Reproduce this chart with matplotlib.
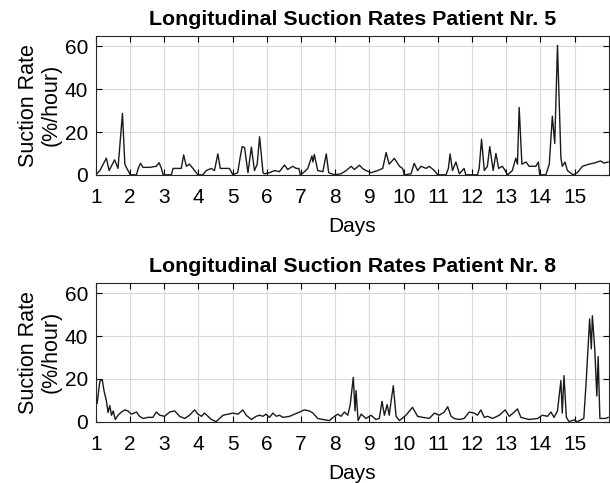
import matplotlib.pyplot as plt

# Patient 5: days and suction rate (%/hour)
days_p5 = [1.00, 1.12, 1.31, 1.39, 1.55, 1.65, 1.78, 1.85, 1.91, 2.01, 2.19, 2.24, 2.31, 2.38,
           2.58, 2.77, 2.85, 2.92, 2.97, 3.21, 3.26, 3.50, 3.57, 3.65, 3.74, 3.84, 3.99, 4.13,
           4.23, 4.38, 4.47, 4.57, 4.64, 4.91, 5.01, 5.15, 5.22, 5.28, 5.35, 5.45, 5.55, 5.64,
           5.72, 5.79, 5.89, 5.93, 6.08, 6.23, 6.37, 6.52, 6.61, 6.76, 6.86, 6.94, 6.98, 7.07,
           7.20, 7.32, 7.35, 7.39, 7.49, 7.64, 7.74, 7.81, 7.98, 8.17, 8.32, 8.47, 8.56, 8.71,
           8.80, 8.90, 9.05, 9.24, 9.39, 9.49, 9.58, 9.73, 9.88, 9.97, 10.02, 10.22, 10.31, 10.41,
           10.51, 10.66, 10.75, 10.90, 11.00, 11.24, 11.31, 11.36, 11.43, 11.53, 11.63, 11.77, 11.82,
           12.16, 12.21, 12.28, 12.36, 12.45, 12.52, 12.62, 12.70, 12.78, 12.89, 12.97, 13.04, 13.18,
           13.28, 13.33, 13.38, 13.46, 13.58, 13.67, 13.87, 13.94, 13.98, 14.16, 14.26, 14.35, 14.42,
           14.50, 14.60, 14.64, 14.72, 14.79, 14.96, 15.08, 15.23, 15.42, 15.57, 15.76, 15.86, 15.98]
rate_p5 = [0.0, 2.0, 7.8, 2.0, 7.0, 3.0, 28.7, 5.0, 3.0, 0.0, 0.0, 3.0, 5.4, 3.5,
           3.5, 4.0, 5.7, 3.0, 0.0, 0.0, 3.0, 3.0, 9.3, 4.0, 5.0, 3.0, 0.0, 0.0,
           2.0, 3.0, 2.0, 9.8, 3.0, 3.0, 0.0, 1.0, 8.0, 13.2, 12.8, 1.0, 13.0, 2.0,
           5.0, 17.8, 1.0, 0.5, 1.0, 2.0, 1.5, 4.6, 2.5, 4.0, 3.0, 3.0, 0.0, 1.0,
           3.0, 8.8, 6.0, 9.5, 2.0, 1.5, 9.8, 1.0, 0.0, 0.5, 2.0, 4.0, 2.5, 4.5,
           3.0, 2.0, 1.0, 2.0, 3.0, 10.4, 5.0, 7.7, 4.0, 3.0, 0.0, 0.5, 5.4, 2.0,
           4.0, 3.0, 4.0, 2.0, 0.0, 0.0, 3.0, 9.8, 2.0, 6.0, 0.5, 3.0, 0.0,
           0.0, 3.0, 16.6, 2.0, 4.0, 13.2, 2.0, 10.0, 3.0, 4.0, 2.0, 0.0, 2.0,
           7.8, 5.0, 31.5, 5.0, 6.0, 4.0, 4.0, 6.0, 0.0, 0.0, 5.0, 27.4, 14.7,
           60.5, 8.0, 4.0, 6.0, 2.0, 0.0, 1.0, 4.0, 5.0, 5.5, 6.5, 5.5, 6.0]

# Patient 8
days_p8 = [1.00, 1.04, 1.12, 1.19, 1.24, 1.31, 1.36, 1.41, 1.46, 1.51, 1.57, 1.65, 1.75, 1.85,
           1.94, 2.04, 2.19, 2.28, 2.38, 2.53, 2.67, 2.77, 2.87, 3.01, 3.16, 3.31, 3.45, 3.60,
           3.74, 3.89, 3.99, 4.09, 4.18, 4.28, 4.38, 4.52, 4.62, 4.72, 4.86, 5.01, 5.16, 5.30,
           5.40, 5.55, 5.69, 5.79, 5.89, 5.98, 6.08, 6.18, 6.28, 6.37, 6.47, 6.67, 6.81, 6.96,
           7.10, 7.25, 7.35, 7.49, 7.64, 7.83, 7.98, 8.08, 8.17, 8.27, 8.37, 8.44, 8.53, 8.58,
           8.61, 8.67, 8.76, 8.90, 9.05, 9.19, 9.29, 9.37, 9.44, 9.52, 9.58, 9.63, 9.70, 9.78,
           9.88, 10.07, 10.26, 10.41, 10.56, 10.75, 10.90, 11.04, 11.19, 11.29, 11.39, 11.48, 11.63,
           11.77, 11.92, 12.07, 12.16, 12.26, 12.36, 12.46, 12.60, 12.80, 12.97, 13.09, 13.24, 13.33,
           13.43, 13.67, 13.92, 14.06, 14.21, 14.31, 14.40, 14.50, 14.60, 14.64, 14.69, 14.76, 14.84,
           14.98, 15.08, 15.27, 15.34, 15.44, 15.49, 15.52, 15.59, 15.65, 15.69, 15.74, 15.91, 15.98]
rate_p8 = [8.5, 8.5, 19.0, 19.6, 14.5, 9.8, 4.3, 7.5, 3.0, 5.0, 1.0, 3.0, 4.5, 5.5,
           5.0, 3.5, 4.5, 2.5, 1.5, 2.0, 2.0, 4.5, 3.0, 2.5, 4.5, 5.0, 2.5, 1.5,
           3.0, 5.5, 3.5, 2.5, 4.0, 2.5, 1.0, 0.0, 1.5, 3.0, 3.5, 4.0, 3.5, 5.5,
           3.0, 1.0, 2.5, 3.0, 2.5, 3.5, 2.0, 4.0, 2.5, 3.0, 2.0, 2.5, 3.5, 4.5,
           5.5, 5.0, 4.0, 1.5, 1.0, 0.5, 2.5, 3.5, 2.5, 4.5, 3.0, 8.0, 20.7, 5.0,
           14.5, 0.5, 3.5, 1.5, 3.0, 1.0, 1.5, 9.5, 3.0, 8.0, 3.0, 9.0, 16.8, 2.5,
           0.5, 3.0, 6.7, 2.5, 2.0, 1.5, 4.0, 3.0, 4.5, 7.0, 2.5, 1.5, 1.0,
           1.5, 4.5, 4.0, 3.0, 5.5, 2.0, 2.5, 1.5, 3.0, 5.5, 2.5, 4.5, 6.0,
           2.0, 1.0, 1.5, 3.0, 2.5, 4.5, 2.0, 5.0, 19.2, 4.0, 21.5, 2.0, 0.0,
           0.8, 0.0, 1.5, 19.0, 48.0, 34.0, 49.5, 34.0, 12.0, 30.4, 1.5, 1.5, 2.0]

day_ticks = list(range(1, 16))
rate_ticks = [0, 20, 40, 60]

plt.rcParams['font.family'] = ['Liberation Sans', 'DejaVu Sans']

fig = plt.figure(figsize=(6.10, 4.83), dpi=100)
ax_top = fig.add_axes([0.157, 0.638, 0.841, 0.288])
ax_bot = fig.add_axes([0.157, 0.127, 0.841, 0.288])

for ax, d, r, nr in [(ax_top, days_p5, rate_p5, 5), (ax_bot, days_p8, rate_p8, 8)]:
    ax.plot(d, r, color='#1a1a1a', linewidth=1.0)
    ax.set_xlim(1, 16)
    ax.set_ylim(0, 65)
    ax.set_xticks(day_ticks)
    ax.set_yticks(rate_ticks)
    ax.grid(True, color='#d9d9d9', linewidth=0.8)
    ax.set_axisbelow(True)
    ax.tick_params(direction='in', length=4, width=0.8, labelsize=15,
                   top=True, right=True)
    ax.tick_params(axis='x', pad=9.5)
    ax.tick_params(axis='y', pad=5.5)
    for s in ax.spines.values():
        s.set_linewidth(0.8)
        s.set_color('#262626')
    ax.set_title(f'Longitudinal Suction Rates Patient Nr. {nr}',
                 fontsize=15.4, fontweight='bold', pad=7.5)
    ax.set_xlabel('Days', fontsize=15, labelpad=7.5)
    ax.set_ylabel('Suction Rate\n(%/hour)', fontsize=15.5, labelpad=2, linespacing=1.15)

fig.savefig('out.png', dpi=100)
